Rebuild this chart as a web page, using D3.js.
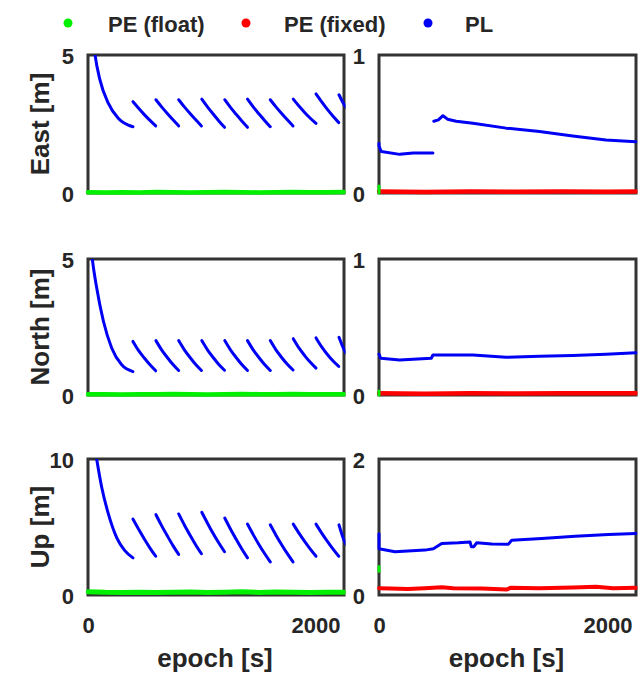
<!DOCTYPE html>
<html>
<head>
<meta charset="utf-8">
<script src="https://cdn.jsdelivr.net/npm/d3@7"></script>
<style>
body { margin: 0; background: #fff; }
text { font-family: "Liberation Sans", Arial, sans-serif; font-weight: bold; fill: #262626; }
</style>
</head>
<body>
<script>
// ---- data ----
var epochMax = 2250;
var epochTicks = [0, 2000];
var rowLabels = ["East [m]", "North [m]", "Up [m]"];
var leftMax = [5, 5, 10];
var rightMax = [1, 1, 2];
var legendLabels = ["PE (float)", "PE (fixed)", "PL"];

// PL (float) sawtooth: start epochs of each reset, sample offsets in each segment
var plSegStart = [395, 597, 797, 1000, 1202, 1402, 1602, 1804, 2004, 2206];
var plSegOffset = [0, 50, 100, 150, 200];

var eastPLHead = [[50, 5.4], [62, 5.0], [105, 4.1], [178, 3.26], [266, 2.71], [395, 2.40]];
var eastPLSegs = [
  [3.31, 3.07, 2.84, 2.63, 2.43],
  [3.38, 3.12, 2.88, 2.65, 2.43],
  [3.38, 3.12, 2.88, 2.65, 2.43],
  [3.40, 3.12, 2.86, 2.61, 2.38],
  [3.38, 3.10, 2.85, 2.61, 2.38],
  [3.40, 3.12, 2.87, 2.63, 2.40],
  [3.38, 3.12, 2.88, 2.65, 2.43],
  [3.40, 3.15, 2.92, 2.71, 2.52],
  [3.59, 3.30, 3.03, 2.78, 2.55],
  [3.56, 3.17, 2.92, 2.70, 2.52]
];

var northPLHead = [[30, 5.3], [38, 5.0], [76, 3.95], [135, 2.72], [208, 1.73], [296, 1.11], [395, 0.86]];
var northPLSegs = [
  [1.97, 1.63, 1.36, 1.11, 0.89],
  [2.00, 1.66, 1.38, 1.12, 0.90],
  [2.00, 1.66, 1.38, 1.12, 0.90],
  [2.00, 1.66, 1.38, 1.12, 0.91],
  [2.00, 1.66, 1.38, 1.12, 0.90],
  [2.00, 1.66, 1.38, 1.12, 0.90],
  [2.00, 1.66, 1.38, 1.13, 0.92],
  [2.07, 1.73, 1.45, 1.20, 0.99],
  [2.10, 1.77, 1.49, 1.25, 1.05],
  [2.12, 1.62, 1.38, 1.17, 1.00]
];

var upPLHead = [[70, 10.3], [76, 10.0], [120, 7.94], [179, 5.96], [252, 4.22], [320, 3.30], [395, 2.73]];
var upPLSegs = [
  [5.58, 4.83, 4.12, 3.45, 2.85],
  [5.91, 5.10, 4.35, 3.63, 2.98],
  [5.96, 5.15, 4.40, 3.68, 3.03],
  [6.08, 5.28, 4.52, 3.82, 3.18],
  [5.66, 4.85, 4.10, 3.38, 2.73],
  [5.21, 4.44, 3.72, 3.05, 2.43],
  [5.16, 4.40, 3.70, 3.04, 2.43],
  [5.21, 4.55, 3.94, 3.37, 2.85],
  [5.21, 4.55, 3.94, 3.37, 2.85],
  [5.16, 3.90, 3.40, 3.05, 2.80]
];

// PE (float) on the left column
var eastFloatPE = [[0, 0.03], [150, 0.02], [300, 0.03], [450, 0.02], [600, 0.04], [750, 0.03], [900, 0.02], [1050, 0.03],
  [1200, 0.04], [1350, 0.03], [1500, 0.02], [1650, 0.03], [1800, 0.04], [1950, 0.03], [2100, 0.03], [2250, 0.04]];
var northFloatPE = [[0, 0.03], [150, 0.03], [300, 0.02], [450, 0.03], [600, 0.03], [750, 0.04], [900, 0.03], [1050, 0.02],
  [1200, 0.03], [1350, 0.04], [1500, 0.03], [1650, 0.03], [1800, 0.04], [1950, 0.03], [2100, 0.03], [2250, 0.03]];
var upFloatPE = [[0, 0.24], [150, 0.20], [300, 0.19], [450, 0.21], [600, 0.18], [750, 0.20], [900, 0.22], [1050, 0.19],
  [1200, 0.21], [1350, 0.23], [1500, 0.19], [1650, 0.22], [1800, 0.20], [1950, 0.18], [2100, 0.21], [2250, 0.20]];

// right column (fixed solution)
var eastFixedPL = [[0, 0.36], [0, 0.34], [20, 0.30], [181, 0.28], [300, 0.29], [472, 0.29], [472, null],
  [480, 0.52], [520, 0.53], [560, 0.56], [600, 0.535], [676, 0.52], [822, 0.505], [1113, 0.47],
  [1405, 0.445], [1696, 0.413], [1987, 0.384], [2250, 0.372]];
var northFixedPL = [[0, 0.30], [15, 0.27], [181, 0.257], [458, 0.27], [472, 0.294], [822, 0.294], [1113, 0.277],
  [1405, 0.285], [1696, 0.29], [1987, 0.30], [2250, 0.31]];
var upFixedPL = [[0, 0.90], [0, 0.68], [140, 0.635], [403, 0.66], [476, 0.68], [549, 0.757], [695, 0.768], [797, 0.78],
  [808, 0.71], [830, 0.71], [856, 0.768], [987, 0.75], [1133, 0.748], [1162, 0.806], [1425, 0.83], [1717, 0.865],
  [2009, 0.89], [2250, 0.905]];

var eastFixedPE = [[0, 0.01], [400, 0.008], [800, 0.01], [1200, 0.009], [1600, 0.01], [2000, 0.009], [2250, 0.01]];
var northFixedPE = [[0, 0.012], [400, 0.01], [800, 0.012], [1200, 0.011], [1600, 0.013], [2000, 0.012], [2250, 0.012]];
var upFixedPE = [[0, 0.10], [100, 0.095], [250, 0.09], [400, 0.10], [550, 0.115], [650, 0.10], [900, 0.095],
  [1120, 0.08], [1150, 0.105], [1400, 0.10], [1700, 0.11], [1900, 0.12], [2050, 0.10], [2250, 0.105]];

var eastFixedFloat = [[0, 0.0], [0, 0.05]];
var northFixedFloat = [[0, 0.0], [0, 0.03]];
var upFixedFloat = [[0, 0.35], [0, 0.42]];

// ---- layout ----
var GREEN = "#00f000", RED = "#ff0000", BLUE = "#0000f5";
var colX = [[88, 344], [379, 636]];
var rowY = [[55, 193], [259, 395], [459, 595]];

function plSeries(head, segs) {
  var out = [head];
  segs.forEach(function(vals, i) {
    out.push(vals.map(function(v, j) { return [plSegStart[i] + plSegOffset[j], v]; }));
  });
  return out;
}

var panels = [
  { row: 0, col: 0, max: leftMax[0], lines: [{ d: eastFloatPE, c: GREEN, w: 4.5 }].concat(plSeries(eastPLHead, eastPLSegs).map(function(s) { return { d: s, c: BLUE, w: 3, smooth: true }; })) },
  { row: 0, col: 1, max: rightMax[0], lines: [{ d: eastFixedPE, c: RED, w: 4.5 }, { d: eastFixedFloat, c: GREEN, w: 3 }, { d: eastFixedPL, c: BLUE, w: 3 }] },
  { row: 1, col: 0, max: leftMax[1], lines: [{ d: northFloatPE, c: GREEN, w: 4.5 }].concat(plSeries(northPLHead, northPLSegs).map(function(s) { return { d: s, c: BLUE, w: 3, smooth: true }; })) },
  { row: 1, col: 1, max: rightMax[1], lines: [{ d: northFixedPE, c: RED, w: 4.5 }, { d: northFixedFloat, c: GREEN, w: 3 }, { d: northFixedPL, c: BLUE, w: 3 }] },
  { row: 2, col: 0, max: leftMax[2], lines: [{ d: upFloatPE, c: GREEN, w: 5 }].concat(plSeries(upPLHead, upPLSegs).map(function(s) { return { d: s, c: BLUE, w: 3, smooth: true }; })) },
  { row: 2, col: 1, max: rightMax[2], lines: [{ d: upFixedPE, c: RED, w: 4 }, { d: upFixedFloat, c: GREEN, w: 3 }, { d: upFixedPL, c: BLUE, w: 3 }] }
];

var svg = d3.select("body").append("svg")
  .attr("width", 641)
  .attr("height", 681);

// legend
var legX = [[68, 108], [246, 284], [428, 465]];
var legColors = [GREEN, RED, BLUE];
legendLabels.forEach(function(lab, i) {
  svg.append("circle").attr("cx", legX[i][0]).attr("cy", 23).attr("r", 4.5).attr("fill", legColors[i]);
  svg.append("text").attr("x", legX[i][1]).attr("y", 32).style("font-size", "22px").text(lab);
});

panels.forEach(function(p, k) {
  var xr = colX[p.col], yr = rowY[p.row];
  var x = d3.scaleLinear().domain([0, epochMax]).range(xr);
  var y = d3.scaleLinear().domain([0, p.max]).range([yr[1], yr[0]]);
  var g = svg.append("g");

  // frame
  g.append("rect")
    .attr("x", xr[0]).attr("y", yr[0])
    .attr("width", xr[1] - xr[0]).attr("height", yr[1] - yr[0])
    .attr("fill", "none").attr("stroke", "#333").attr("stroke-width", 3);

  // y ticks
  var ya = g.append("g").attr("transform", "translate(" + xr[0] + ",0)")
    .call(d3.axisLeft(y).tickValues([0, p.max]).tickSize(0).tickPadding(14).tickFormat(d3.format("d")));
  ya.select(".domain").remove();
  ya.selectAll("text").style("font-size", "22px").attr("dy", "0.4em").attr("fill", "#262626");

  if (p.row === 2) {
    var xa = g.append("g").attr("transform", "translate(0," + yr[1] + ")")
      .call(d3.axisBottom(x).tickValues(epochTicks).tickSize(0).tickPadding(22).tickFormat(d3.format("d")));
    xa.select(".domain").remove();
    xa.selectAll("text").style("font-size", "22px").attr("fill", "#262626");
    g.append("text")
      .attr("x", (xr[0] + xr[1]) / 2 + (p.col === 0 ? -1 : -1)).attr("y", 667)
      .attr("text-anchor", "middle").style("font-size", "26px")
      .text("epoch [s]");
  }

  if (p.col === 0) {
    g.append("text")
      .attr("transform", "translate(40," + (yr[0] + yr[1]) / 2 + ") rotate(-90)")
      .attr("text-anchor", "middle").attr("dy", "0.36em")
      .style("font-size", "26px")
      .text(rowLabels[p.row]);
  }

  // data
  var clipId = "clip" + k;
  svg.append("clipPath").attr("id", clipId).append("rect")
    .attr("x", xr[0] - 2).attr("y", yr[0])
    .attr("width", xr[1] - xr[0] + 3.5).attr("height", yr[1] - yr[0] + 4);

  var dg = g.append("g").attr("clip-path", "url(#" + clipId + ")");
  p.lines.forEach(function(s) {
    var line = d3.line()
      .defined(function(d) { return d[1] !== null; })
      .x(function(d) { return x(d[0]); })
      .y(function(d) { return y(d[1]); })
      .curve(s.smooth ? d3.curveMonotoneX : d3.curveLinear);
    dg.append("path").attr("d", line(s.d))
      .attr("fill", "none").attr("stroke", s.c)
      .attr("stroke-width", s.w).attr("stroke-linecap", "round").attr("stroke-linejoin", "round");
  });
});
</script>
</body>
</html>
